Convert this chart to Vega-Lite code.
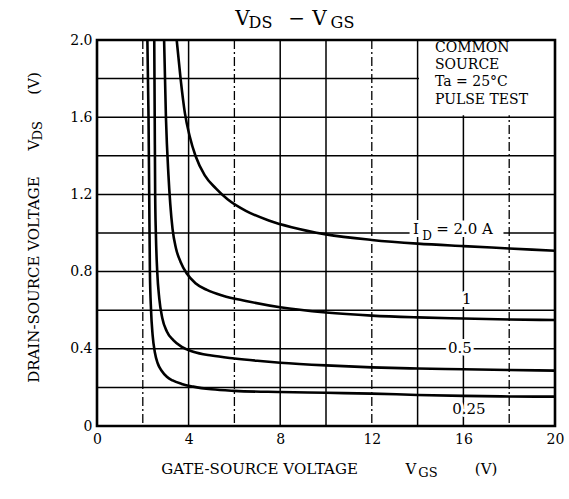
{
  "$schema": "https://vega.github.io/schema/vega-lite/v6.json",
  "width": 458,
  "height": 386,
  "autosize": "none",
  "padding": {"left": 97, "top": 40, "right": 14, "bottom": 73},
  "background": "white",
  "config": {"view": {"stroke": null}, "font": "DejaVu Serif", "axis": {"title": null, "grid": false}},
  "datasets": {
    "grid": [
      {"dir": "x", "v": 2}, {"dir": "x", "v": 4}, {"dir": "x", "v": 6}, {"dir": "x", "v": 8},
      {"dir": "x", "v": 10}, {"dir": "x", "v": 12}, {"dir": "x", "v": 14}, {"dir": "x", "v": 16},
      {"dir": "x", "v": 18},
      {"dir": "y", "v": 0.2}, {"dir": "y", "v": 0.4}, {"dir": "y", "v": 0.6}, {"dir": "y", "v": 0.8},
      {"dir": "y", "v": 1.0}, {"dir": "y", "v": 1.2}, {"dir": "y", "v": 1.4}, {"dir": "y", "v": 1.6},
      {"dir": "y", "v": 1.8}
    ],
    "curves": [
      {"id": "2.0", "vgs": 3.48, "vds": 2.0},
      {"id": "2.0", "vgs": 3.65, "vds": 1.8},
      {"id": "2.0", "vgs": 3.84, "vds": 1.62},
      {"id": "2.0", "vgs": 4.05, "vds": 1.5},
      {"id": "2.0", "vgs": 4.3, "vds": 1.4},
      {"id": "2.0", "vgs": 4.7, "vds": 1.3},
      {"id": "2.0", "vgs": 5.2, "vds": 1.23},
      {"id": "2.0", "vgs": 5.7, "vds": 1.175},
      {"id": "2.0", "vgs": 6.5, "vds": 1.115},
      {"id": "2.0", "vgs": 7.5, "vds": 1.065},
      {"id": "2.0", "vgs": 8.5, "vds": 1.03},
      {"id": "2.0", "vgs": 10, "vds": 0.993},
      {"id": "2.0", "vgs": 12, "vds": 0.964},
      {"id": "2.0", "vgs": 14, "vds": 0.945},
      {"id": "2.0", "vgs": 16, "vds": 0.932},
      {"id": "2.0", "vgs": 18, "vds": 0.92},
      {"id": "2.0", "vgs": 20, "vds": 0.908},
      {"id": "1", "vgs": 2.93, "vds": 2.0},
      {"id": "1", "vgs": 3.01, "vds": 1.6},
      {"id": "1", "vgs": 3.12, "vds": 1.3},
      {"id": "1", "vgs": 3.2, "vds": 1.15},
      {"id": "1", "vgs": 3.3, "vds": 1.02},
      {"id": "1", "vgs": 3.45, "vds": 0.92},
      {"id": "1", "vgs": 3.65, "vds": 0.85},
      {"id": "1", "vgs": 3.92, "vds": 0.79},
      {"id": "1", "vgs": 4.3, "vds": 0.74},
      {"id": "1", "vgs": 4.8, "vds": 0.705},
      {"id": "1", "vgs": 5.5, "vds": 0.675},
      {"id": "1", "vgs": 6.5, "vds": 0.648},
      {"id": "1", "vgs": 8, "vds": 0.615},
      {"id": "1", "vgs": 10, "vds": 0.588},
      {"id": "1", "vgs": 12, "vds": 0.572},
      {"id": "1", "vgs": 14, "vds": 0.563},
      {"id": "1", "vgs": 16, "vds": 0.557},
      {"id": "1", "vgs": 18, "vds": 0.552},
      {"id": "1", "vgs": 20, "vds": 0.549},
      {"id": "0.5", "vgs": 2.5, "vds": 2.0},
      {"id": "0.5", "vgs": 2.52, "vds": 1.6},
      {"id": "0.5", "vgs": 2.54, "vds": 1.2},
      {"id": "0.5", "vgs": 2.57, "vds": 1.0},
      {"id": "0.5", "vgs": 2.63, "vds": 0.8},
      {"id": "0.5", "vgs": 2.72, "vds": 0.66},
      {"id": "0.5", "vgs": 2.85, "vds": 0.56},
      {"id": "0.5", "vgs": 3.05, "vds": 0.49},
      {"id": "0.5", "vgs": 3.33, "vds": 0.445},
      {"id": "0.5", "vgs": 3.7, "vds": 0.41},
      {"id": "0.5", "vgs": 4.2, "vds": 0.385},
      {"id": "0.5", "vgs": 5, "vds": 0.365},
      {"id": "0.5", "vgs": 6, "vds": 0.35},
      {"id": "0.5", "vgs": 7, "vds": 0.338},
      {"id": "0.5", "vgs": 8, "vds": 0.328},
      {"id": "0.5", "vgs": 10, "vds": 0.314},
      {"id": "0.5", "vgs": 12, "vds": 0.304},
      {"id": "0.5", "vgs": 14, "vds": 0.298},
      {"id": "0.5", "vgs": 16, "vds": 0.294},
      {"id": "0.5", "vgs": 18, "vds": 0.29},
      {"id": "0.5", "vgs": 20, "vds": 0.287},
      {"id": "0.25", "vgs": 2.2, "vds": 2.0},
      {"id": "0.25", "vgs": 2.25, "vds": 1.6},
      {"id": "0.25", "vgs": 2.28, "vds": 1.2},
      {"id": "0.25", "vgs": 2.31, "vds": 0.8},
      {"id": "0.25", "vgs": 2.36, "vds": 0.6},
      {"id": "0.25", "vgs": 2.43, "vds": 0.47},
      {"id": "0.25", "vgs": 2.53, "vds": 0.38},
      {"id": "0.25", "vgs": 2.65, "vds": 0.325},
      {"id": "0.25", "vgs": 2.83, "vds": 0.285},
      {"id": "0.25", "vgs": 3.05, "vds": 0.255},
      {"id": "0.25", "vgs": 3.3, "vds": 0.236},
      {"id": "0.25", "vgs": 3.7, "vds": 0.218},
      {"id": "0.25", "vgs": 4.2, "vds": 0.204},
      {"id": "0.25", "vgs": 5, "vds": 0.19},
      {"id": "0.25", "vgs": 6, "vds": 0.182},
      {"id": "0.25", "vgs": 8, "vds": 0.176},
      {"id": "0.25", "vgs": 10, "vds": 0.172},
      {"id": "0.25", "vgs": 12, "vds": 0.168},
      {"id": "0.25", "vgs": 14, "vds": 0.161},
      {"id": "0.25", "vgs": 16, "vds": 0.156},
      {"id": "0.25", "vgs": 18, "vds": 0.153},
      {"id": "0.25", "vgs": 20, "vds": 0.152}
    ],
    "texts": [
      {"role": "title", "x": 6.35, "y": 2.078, "text": "V"},
      {"role": "titlesub", "x": 7.14, "y": 2.062, "text": "DS"},
      {"role": "title", "x": 8.72, "y": 2.078, "text": "−"},
      {"role": "title", "x": 9.72, "y": 2.078, "text": "V"},
      {"role": "titlesub", "x": 10.72, "y": 2.062, "text": "GS"},
      {"role": "xtitle", "x": 7.1, "y": -0.249, "text": "GATE-SOURCE VOLTAGE"},
      {"role": "xtitle", "x": 13.71, "y": -0.249, "text": "V"},
      {"role": "xsub", "x": 14.45, "y": -0.264, "text": "GS"},
      {"role": "xtitle", "x": 16.99, "y": -0.249, "text": "(V)"},
      {"role": "ytitle", "x": -2.53, "y": 0.759, "text": "DRAIN-SOURCE VOLTAGE"},
      {"role": "ytitle", "x": -2.53, "y": 1.456, "text": "V"},
      {"role": "ysub", "x": -2.4, "y": 1.53, "text": "DS"},
      {"role": "ytitle", "x": -2.53, "y": 1.775, "text": "(V)"},
      {"role": "label", "x": 13.93, "y": 0.995, "text": "I"},
      {"role": "labelsub", "x": 14.41, "y": 0.966, "text": "D"},
      {"role": "label", "x": 16.05, "y": 0.995, "text": "= 2.0 A"},
      {"role": "label", "x": 16.15, "y": 0.63, "text": "1"},
      {"role": "label", "x": 15.85, "y": 0.378, "text": "0.5"},
      {"role": "label", "x": 16.24, "y": 0.062, "text": "0.25"},
      {"role": "note", "x": 14.76, "y": 1.938, "text": "COMMON"},
      {"role": "note", "x": 14.76, "y": 1.85, "text": "SOURCE"},
      {"role": "note", "x": 14.76, "y": 1.762, "text": "Ta = 25°C"},
      {"role": "note", "x": 14.76, "y": 1.668, "text": "PULSE TEST"}
    ],
    "boxes": [
      {"kind": "blank", "x": 14.06, "x2": 20, "y": 1.61, "y2": 2.0},
      {"kind": "gap", "x": 13.65, "x2": 17.75, "y": 0.985, "y2": 1.065},
      {"kind": "frame", "x": 0, "x2": 20, "y": 0, "y2": 2.0}
    ]
  },
  "layer": [
    {
      "data": {"name": "curves"},
      "mark": {"type": "line", "color": "black", "strokeWidth": 2.6, "strokeOpacity": 0, "interpolate": "monotone", "clip": true},
      "encoding": {
        "x": {
          "field": "vgs", "type": "quantitative",
          "scale": {"domain": [0, 20], "nice": false, "zero": false},
          "axis": {
            "values": [0, 4, 8, 12, 16, 20],
            "ticks": false, "domain": false, "grid": false,
            "labelFont": "DejaVu Serif", "labelFontSize": 14, "labelColor": "black",
            "labelPadding": 6, "labelOverlap": false, "labelFlush": false
          }
        },
        "y": {
          "field": "vds", "type": "quantitative",
          "scale": {"domain": [0, 2], "nice": false, "zero": false},
          "axis": {
            "values": [0, 0.4, 0.8, 1.2, 1.6, 2.0],
            "labelExpr": "datum.value == 0 ? '0' : format(datum.value, '.1f')",
            "ticks": false, "domain": false, "grid": false,
            "labelFont": "DejaVu Serif", "labelFontSize": 14, "labelColor": "black",
            "labelPadding": 5, "labelOverlap": false, "labelFlush": false
          }
        },
        "detail": {"field": "id", "type": "nominal"}
      }
    },
    {
      "data": {"name": "grid"},
      "transform": [{"filter": "datum.dir == 'x' && datum.v != 2 && datum.v != 6 && datum.v != 12 && datum.v != 18"}],
      "mark": {"type": "rule", "color": "black", "strokeWidth": 1.5},
      "encoding": {"x": {"field": "v", "type": "quantitative"}}
    },
    {
      "data": {"name": "grid"},
      "transform": [{"filter": "datum.dir == 'x' && (datum.v == 2 || datum.v == 6 || datum.v == 12 || datum.v == 18)"}],
      "mark": {"type": "rule", "color": "black", "strokeWidth": 1.3, "strokeDash": [9, 3, 2, 3]},
      "encoding": {"x": {"field": "v", "type": "quantitative"}}
    },
    {
      "data": {"name": "grid"},
      "transform": [{"filter": "datum.dir == 'y'"}],
      "mark": {"type": "rule", "color": "black", "strokeWidth": 1.5},
      "encoding": {"y": {"field": "v", "type": "quantitative"}}
    },
    {
      "data": {"name": "boxes"},
      "transform": [{"filter": "datum.kind == 'gap'"}],
      "mark": {"type": "rect", "fill": "white", "stroke": null},
      "encoding": {
        "x": {"field": "x", "type": "quantitative"},
        "x2": {"field": "x2"},
        "y": {"field": "y", "type": "quantitative"},
        "y2": {"field": "y2"}
      }
    },
    {
      "data": {"name": "texts"},
      "transform": [{"filter": "datum.role == 'label'"}],
      "mark": {"type": "text", "font": "DejaVu Serif", "fontSize": 15, "align": "center", "baseline": "alphabetic", "color": "white", "stroke": "white", "strokeWidth": 6},
      "encoding": {
        "x": {"field": "x", "type": "quantitative"},
        "y": {"field": "y", "type": "quantitative"},
        "text": {"field": "text"}
      }
    },
    {
      "data": {"name": "texts"},
      "transform": [{"filter": "datum.role == 'labelsub'"}],
      "mark": {"type": "text", "font": "DejaVu Serif", "fontSize": 12, "align": "center", "baseline": "alphabetic", "color": "white", "stroke": "white", "strokeWidth": 5},
      "encoding": {
        "x": {"field": "x", "type": "quantitative"},
        "y": {"field": "y", "type": "quantitative"},
        "text": {"field": "text"}
      }
    },
    {
      "data": {"name": "curves"},
      "mark": {"type": "line", "color": "black", "strokeWidth": 2.6, "interpolate": "monotone", "clip": true},
      "encoding": {
        "x": {"field": "vgs", "type": "quantitative"},
        "y": {"field": "vds", "type": "quantitative"},
        "detail": {"field": "id", "type": "nominal"}
      }
    },
    {
      "data": {"name": "boxes"},
      "transform": [{"filter": "datum.kind == 'blank'"}],
      "mark": {"type": "rect", "fill": "white", "stroke": null},
      "encoding": {
        "x": {"field": "x", "type": "quantitative"},
        "x2": {"field": "x2"},
        "y": {"field": "y", "type": "quantitative"},
        "y2": {"field": "y2"}
      }
    },
    {
      "data": {"name": "boxes"},
      "transform": [{"filter": "datum.kind == 'frame'"}],
      "mark": {"type": "rect", "fill": null, "filled": false, "stroke": "black", "strokeWidth": 2.6},
      "encoding": {
        "x": {"field": "x", "type": "quantitative"},
        "x2": {"field": "x2"},
        "y": {"field": "y", "type": "quantitative"},
        "y2": {"field": "y2"}
      }
    },
    {
      "data": {"name": "texts"},
      "transform": [{"filter": "datum.role == 'title'"}],
      "mark": {"type": "text", "font": "DejaVu Serif", "fontSize": 20, "align": "center", "baseline": "alphabetic", "color": "black"},
      "encoding": {
        "x": {"field": "x", "type": "quantitative"},
        "y": {"field": "y", "type": "quantitative"},
        "text": {"field": "text"}
      }
    },
    {
      "data": {"name": "texts"},
      "transform": [{"filter": "datum.role == 'titlesub'"}],
      "mark": {"type": "text", "font": "DejaVu Serif", "fontSize": 16, "align": "center", "baseline": "alphabetic", "color": "black"},
      "encoding": {
        "x": {"field": "x", "type": "quantitative"},
        "y": {"field": "y", "type": "quantitative"},
        "text": {"field": "text"}
      }
    },
    {
      "data": {"name": "texts"},
      "transform": [{"filter": "datum.role == 'xtitle'"}],
      "mark": {"type": "text", "font": "DejaVu Serif", "fontSize": 15, "align": "center", "baseline": "alphabetic", "color": "black"},
      "encoding": {
        "x": {"field": "x", "type": "quantitative"},
        "y": {"field": "y", "type": "quantitative"},
        "text": {"field": "text"}
      }
    },
    {
      "data": {"name": "texts"},
      "transform": [{"filter": "datum.role == 'xsub'"}],
      "mark": {"type": "text", "font": "DejaVu Serif", "fontSize": 13, "align": "center", "baseline": "alphabetic", "color": "black"},
      "encoding": {
        "x": {"field": "x", "type": "quantitative"},
        "y": {"field": "y", "type": "quantitative"},
        "text": {"field": "text"}
      }
    },
    {
      "data": {"name": "texts"},
      "transform": [{"filter": "datum.role == 'ytitle'"}],
      "mark": {"type": "text", "font": "DejaVu Serif", "fontSize": 15, "align": "center", "baseline": "alphabetic", "angle": 270, "color": "black"},
      "encoding": {
        "x": {"field": "x", "type": "quantitative"},
        "y": {"field": "y", "type": "quantitative"},
        "text": {"field": "text"}
      }
    },
    {
      "data": {"name": "texts"},
      "transform": [{"filter": "datum.role == 'ysub'"}],
      "mark": {"type": "text", "font": "DejaVu Serif", "fontSize": 13, "align": "center", "baseline": "alphabetic", "angle": 270, "color": "black"},
      "encoding": {
        "x": {"field": "x", "type": "quantitative"},
        "y": {"field": "y", "type": "quantitative"},
        "text": {"field": "text"}
      }
    },
    {
      "data": {"name": "texts"},
      "transform": [{"filter": "datum.role == 'label'"}],
      "mark": {"type": "text", "font": "DejaVu Serif", "fontSize": 15, "align": "center", "baseline": "alphabetic", "color": "black"},
      "encoding": {
        "x": {"field": "x", "type": "quantitative"},
        "y": {"field": "y", "type": "quantitative"},
        "text": {"field": "text"}
      }
    },
    {
      "data": {"name": "texts"},
      "transform": [{"filter": "datum.role == 'labelsub'"}],
      "mark": {"type": "text", "font": "DejaVu Serif", "fontSize": 12, "align": "center", "baseline": "alphabetic", "color": "black"},
      "encoding": {
        "x": {"field": "x", "type": "quantitative"},
        "y": {"field": "y", "type": "quantitative"},
        "text": {"field": "text"}
      }
    },
    {
      "data": {"name": "texts"},
      "transform": [{"filter": "datum.role == 'note'"}],
      "mark": {"type": "text", "font": "DejaVu Serif", "fontSize": 14, "align": "left", "baseline": "alphabetic", "color": "black"},
      "encoding": {
        "x": {"field": "x", "type": "quantitative"},
        "y": {"field": "y", "type": "quantitative"},
        "text": {"field": "text"}
      }
    }
  ]
}
